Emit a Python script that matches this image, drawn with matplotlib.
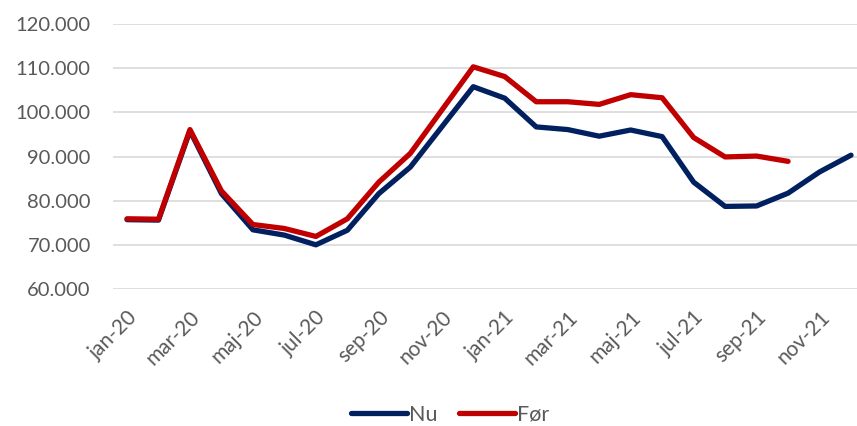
import matplotlib
matplotlib.use("Agg")
import matplotlib.pyplot as plt
from matplotlib.ticker import FuncFormatter

plt.rcParams['font.family'] = ['Lato', 'DejaVu Sans']

months = ["jan-20", "feb-20", "mar-20", "apr-20", "maj-20", "jun-20", "jul-20", "aug-20",
          "sep-20", "okt-20", "nov-20", "dec-20", "jan-21", "feb-21", "mar-21", "apr-21",
          "maj-21", "jun-21", "jul-21", "aug-21", "sep-21", "okt-21", "nov-21", "dec-21"]
nu = [75700, 75600, 95800, 81600, 73400, 72200, 70000, 73300, 81600, 87600, 96700, 105800,
      103200, 96700, 96100, 94600, 96000, 94500, 84200, 78700, 78800, 81700, 86500, 90300]
foer = [75900, 75800, 96100, 82200, 74600, 73700, 71900, 75900, 84200, 90700, 100500, 110300,
        108100, 102400, 102400, 101800, 104000, 103300, 94300, 89900, 90100, 88900]

fig = plt.figure(figsize=(8.57, 4.26), dpi=100)
ax = fig.add_axes([113/857, 1-289/426, 1-113/857, (289-24)/426])

x_nu = list(range(len(nu)))
x_f = list(range(len(foer)))
ax.plot(x_nu, nu, color="#002060", lw=3.8, solid_capstyle="round", solid_joinstyle="round", label="Nu", zorder=3)
ax.plot(x_f, foer, color="#C00000", lw=3.8, solid_capstyle="round", solid_joinstyle="round", label="Før", zorder=4)

ax.set_ylim(60000, 120000)
ax.set_yticks(range(60000, 120001, 10000))
ax.yaxis.set_major_formatter(FuncFormatter(lambda v, p: f"{int(v):,}".replace(",", ".")))
ax.set_xlim(-0.445, 23.19)
ax.set_xticks(range(0, len(months), 2))
ax.set_xticklabels(months[::2], rotation=45, ha="right", va="top", rotation_mode="anchor")
ax.grid(axis="y", color="#D9D9D9", lw=1.2)
ax.set_axisbelow(True)
for s in ax.spines.values():
    s.set_visible(False)
ax.tick_params(axis="both", length=0, colors="#595959")
ax.tick_params(axis="y", pad=16, labelsize=14.5)
ax.tick_params(axis="x", pad=13, labelsize=15)

leg = fig.legend(loc="center", bbox_to_anchor=(450/857, 0.026), ncol=2, frameon=False,
                 fontsize=15.5, handlelength=2.6, columnspacing=1.0, handletextpad=0.1)
for t in leg.get_texts():
    t.set_color("#595959")
for h in leg.get_lines():
    h.set_linewidth(3.8)

fig.savefig("out.png", dpi=100)
